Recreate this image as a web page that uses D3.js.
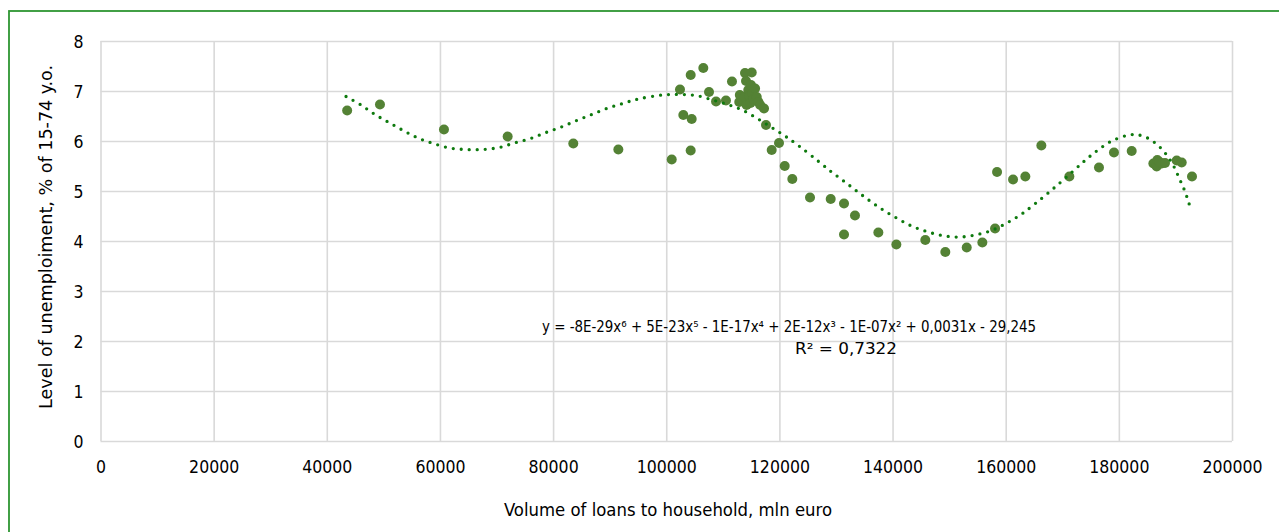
<!DOCTYPE html>
<html>
<head>
<meta charset="utf-8">
<script src="https://cdn.jsdelivr.net/npm/d3@7"></script>
<style>
  html, body { margin: 0; padding: 0; background: #fff; }
  svg { display: block; }
</style>
</head>
<body>
<svg id="chart" width="1279" height="532"></svg>
<script>
// ---- data ----
const loans = [43600, 49400, 60710, 71970, 83570, 91530, 100970, 102430, 103020, 104320, 104320, 104500,
  106550, 107560, 108800, 110560, 111620, 112900, 113000, 113500, 113800, 113920, 114100, 114200, 114500,
  114700, 114900, 114980, 115110, 115200, 115400, 115700, 116000, 116300, 116600, 117280, 117630, 118640,
  119930, 120940, 122280, 125410, 129070, 131420, 131420, 133360, 137490, 140670, 145790, 149330, 153110,
  155870, 158120, 158470, 161300, 163470, 166300, 171250, 176490, 179140, 182270, 186100, 186690, 186800,
  187200, 187580, 188160, 190230, 191110, 192930];
const unemployment = [6.61, 6.73, 6.23, 6.09, 5.95, 5.83, 5.63, 7.03, 6.52, 5.81, 7.32, 6.44,
  7.46, 6.98, 6.79, 6.81, 7.19, 6.78, 6.92, 6.80, 6.88, 7.36, 7.20, 6.72, 7.02,
  6.90, 6.76, 7.12, 7.37, 6.95, 6.84, 7.05, 6.88, 6.78, 6.72, 6.65, 6.32, 5.82,
  5.96, 5.50, 5.24, 4.87, 4.84, 4.75, 4.13, 4.51, 4.17, 3.93, 4.02, 3.78, 3.87,
  3.97, 4.25, 5.38, 5.23, 5.29, 5.91, 5.29, 5.47, 5.77, 5.80, 5.55, 5.49, 5.62,
  5.58, 5.55, 5.56, 5.61, 5.57, 5.29];

// polynomial trendline (6th order)
const trendX = [43400, 46050, 48520, 50990, 53520, 56120, 58830, 61720, 64550, 67490, 70440, 73150, 76030,
  78740, 81450, 84170, 86830, 89480, 92300, 95060, 99370, 102310, 105260, 108210, 110860, 113440, 116100,
  118640, 121110, 123470, 126940, 129120, 131470, 133770, 136140, 138490, 141020, 143560, 146320, 149220,
  152100, 154990, 157700, 160350, 162830, 165240, 168540, 171840, 174020, 176190, 178740, 181390, 182860,
  184220, 185560, 186750, 187750, 188640, 189450, 190110, 190690, 191290, 191820, 192280, 192760];
const trendY = [6.89, 6.72, 6.53, 6.37, 6.21, 6.06, 5.95, 5.86, 5.83, 5.83, 5.87, 5.96, 6.05,
  6.17, 6.28, 6.41, 6.53, 6.65, 6.75, 6.84, 6.92, 6.93, 6.91, 6.82, 6.73, 6.62, 6.45,
  6.27, 6.09, 5.90, 5.59, 5.39, 5.19, 4.99, 4.79, 4.61, 4.44, 4.29, 4.18, 4.10,
  4.08, 4.13, 4.22, 4.37, 4.54, 4.75, 5.06, 5.39, 5.61, 5.81, 6.00, 6.11, 6.13,
  6.10, 6.03, 5.93, 5.82, 5.69, 5.55, 5.40, 5.25, 5.10, 4.95, 4.79, 4.63];

const xTicks = [0, 20000, 40000, 60000, 80000, 100000, 120000, 140000, 160000, 180000, 200000];
const yTicks = [0, 1, 2, 3, 4, 5, 6, 7, 8];

const xTitle = "Volume of loans to household, mln euro";
const yTitle = "Level of unemploiment, % of 15-74 y.o.";
const equation = "y = -8E-29x⁶ + 5E-23x⁵ - 1E-17x⁴ + 2E-12x³ - 1E-07x² + 0,0031x - 29,245";
const rSquared = "R² = 0,7322";

// ---- layout ----
const FONT = "'DejaVu Sans Condensed', 'DejaVu Sans', sans-serif";
const svg = d3.select("#chart");
const plot = { left: 100.5, right: 1232, top: 41, bottom: 441 };

svg.append("rect").attr("width", 1279).attr("height", 532).attr("fill", "#fff");
svg.append("rect").attr("x", 9).attr("y", 11).attr("width", 1300).attr("height", 560)
  .attr("fill", "none").attr("stroke", "#2e9632").attr("stroke-width", 1.8);

const x = d3.scaleLinear().domain([0, 200000]).range([plot.left, plot.right]);
const y = d3.scaleLinear().domain([0, 8]).range([plot.bottom, plot.top]);

// gridlines
const gridColor = "#d9d9d9";
svg.append("g").attr("transform", `translate(0,${plot.bottom})`)
  .call(d3.axisBottom(x).tickValues(xTicks).tickSize(-(plot.bottom - plot.top)).tickFormat(""))
  .call(g => g.select(".domain").remove())
  .call(g => g.selectAll("line").attr("stroke", gridColor).attr("stroke-width", 1.6));
svg.append("g").attr("transform", `translate(${plot.left},0)`)
  .call(d3.axisLeft(y).tickValues(yTicks).tickSize(-(plot.right - plot.left)).tickFormat(""))
  .call(g => g.select(".domain").remove())
  .call(g => g.selectAll("line").attr("stroke", gridColor).attr("stroke-width", 1.6));

// tick labels
const xAxis = svg.append("g").attr("transform", `translate(0,${plot.bottom})`)
  .call(d3.axisBottom(x).tickValues(xTicks).tickSize(0).tickPadding(0).tickFormat(d3.format("d")));
xAxis.select(".domain").remove();
xAxis.selectAll("text").attr("dy", null).attr("y", 32)
  .attr("font-family", FONT).attr("font-size", 17.5).attr("fill", "#000");

const yAxis = svg.append("g").attr("transform", `translate(${plot.left},0)`)
  .call(d3.axisLeft(y).tickValues(yTicks).tickSize(0).tickPadding(0).tickFormat(d3.format("d")));
yAxis.select(".domain").remove();
yAxis.selectAll("text").attr("x", -17).attr("dy", "0.36em")
  .attr("font-family", FONT).attr("font-size", 17.5).attr("fill", "#000");

// axis titles
svg.append("text").attr("x", 668).attr("y", 516)
  .attr("text-anchor", "middle").attr("font-family", FONT).attr("font-size", 17)
  .attr("textLength", 328).attr("lengthAdjust", "spacingAndGlyphs")
  .attr("fill", "#000").text(xTitle);
svg.append("text").attr("transform", `translate(52,237) rotate(-90)`)
  .attr("text-anchor", "middle").attr("font-family", FONT).attr("font-size", 17)
  .attr("textLength", 344).attr("lengthAdjust", "spacingAndGlyphs")
  .attr("fill", "#000").text(yTitle);

// points
const pts = loans.map((v, i) => [v, unemployment[i]]);
svg.append("g").selectAll("circle").data(pts).join("circle")
  .attr("cx", d => x(d[0])).attr("cy", d => y(d[1])).attr("r", 5)
  .attr("fill", "#548235");

// trendline
const tr = trendX.map((v, i) => [v, trendY[i]]);
svg.append("path").datum(tr)
  .attr("d", d3.line().x(d => x(d[0])).y(d => y(d[1])).curve(d3.curveCatmullRom))
  .attr("fill", "none").attr("stroke", "#0e7a0e").attr("stroke-width", 3.3)
  .attr("stroke-linecap", "round").attr("stroke-dasharray", "0 8");

// equation
svg.append("text").attr("x", 542).attr("y", 332).attr("font-family", FONT).attr("font-size", 16.2)
  .attr("textLength", 494).attr("lengthAdjust", "spacingAndGlyphs")
  .attr("fill", "#000").text(equation);
svg.append("text").attr("x", 795).attr("y", 354).attr("font-family", FONT)
  .attr("font-size", 16.2).attr("textLength", 102).attr("lengthAdjust", "spacingAndGlyphs")
  .attr("fill", "#000").text(rSquared);
</script>
</body>
</html>
